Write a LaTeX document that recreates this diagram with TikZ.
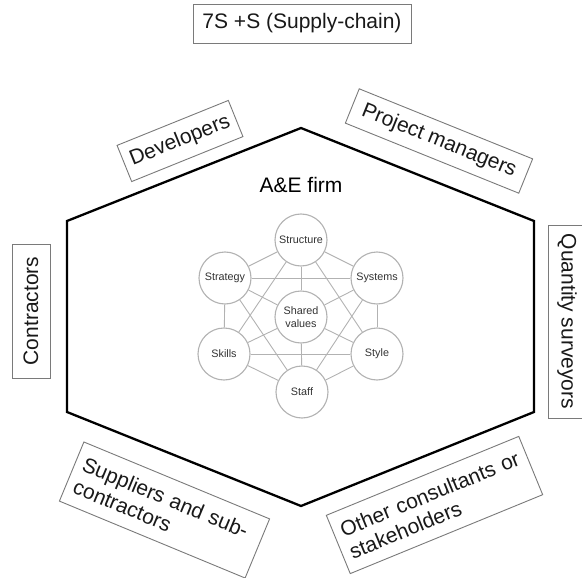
\documentclass[tikz,border=0pt]{standalone}
\usepackage{fontspec}
\setmainfont{Liberation Sans}
\begin{document}
\begin{tikzpicture}[x=1pt,y=-1pt,
  labelbox/.style={draw=black!52, line width=0.9pt, fill=white, inner sep=0pt,
    font=\fontsize{21}{24}\selectfont, text=black!90},
  twoline/.style={labelbox, align=left, inner xsep=8pt, minimum height=64pt},
  sevens/.style={circle, draw=black!30, line width=1.1pt, fill=white,
    minimum size=52pt, inner sep=0pt, align=center,
    font=\fontsize{10.8}{13}\selectfont, text=black!80},
  link/.style={draw=black!30, line width=0.9pt},
  firm/.style={draw=black, line width=2.3pt, line join=miter}]
\useasboundingbox (0,0) rectangle (582,578);

% hexagon standing for the firm
\coordinate (ht) at (301,128);
\coordinate (hur) at (534,221);
\coordinate (hlr) at (534,412);
\coordinate (hb) at (301,506);
\coordinate (hll) at (67,412);
\coordinate (hul) at (67,221);
\draw[firm] (ht) -- (hur) -- (hlr) -- (hb) -- (hll) -- (hul) -- cycle;

\node[font=\fontsize{21}{24}\selectfont] (firm) at (301,185) {A\&E firm};

% title
\node[labelbox, minimum width=218pt, minimum height=39pt] (title) at (302,23.5) {7S +S (Supply-chain)};

% supply-chain partners around the firm
\node[labelbox, minimum width=120pt, minimum height=39pt, rotate=22] (dev) at (180,141) {Developers};
\node[labelbox, minimum width=187pt, minimum height=37pt, rotate=-22] (pm) at (439,141) {Project managers};
\node[labelbox, minimum width=134pt, minimum height=38pt, rotate=90] (con) at (31,311) {Contractors};
\node[labelbox, minimum width=193pt, minimum height=38pt, rotate=-90] (qs) at (567,321.5) {Quantity surveyors};
\node[twoline, text width=185pt, rotate=-22.5] (sup) at (164.5,510) {Suppliers and sub-\\contractors};
\node[twoline, text width=192pt, minimum height=63pt, rotate=22.3] (oth) at (434.5,505) {Other consultants or\\stakeholders};

% McKinsey 7S elements
\node[sevens] (shv) at (301,317) {Shared\\values};
\node[sevens] (stu) at (301,240) {Structure};
\node[sevens] (sty) at (225,278) {Strategy};
\node[sevens] (sys) at (377,278) {Systems};
\node[sevens] (ski) at (224,354) {Skills};
\node[sevens] (stl) at (377,354) {Style};
\node[sevens] (stf) at (302,392) {Staff};

% links between the elements
\foreach \a/\b in {stu/sty, stu/sys, sty/ski, sys/stl, ski/stf, stl/stf,
                   sty/sys, ski/stl, stu/ski, stu/stl, sty/stf, sys/stf,
                   shv/stu, shv/sty, shv/sys, shv/ski, shv/stl, shv/stf}
  \draw[link] (\a) -- (\b);
\end{tikzpicture}
\end{document}
